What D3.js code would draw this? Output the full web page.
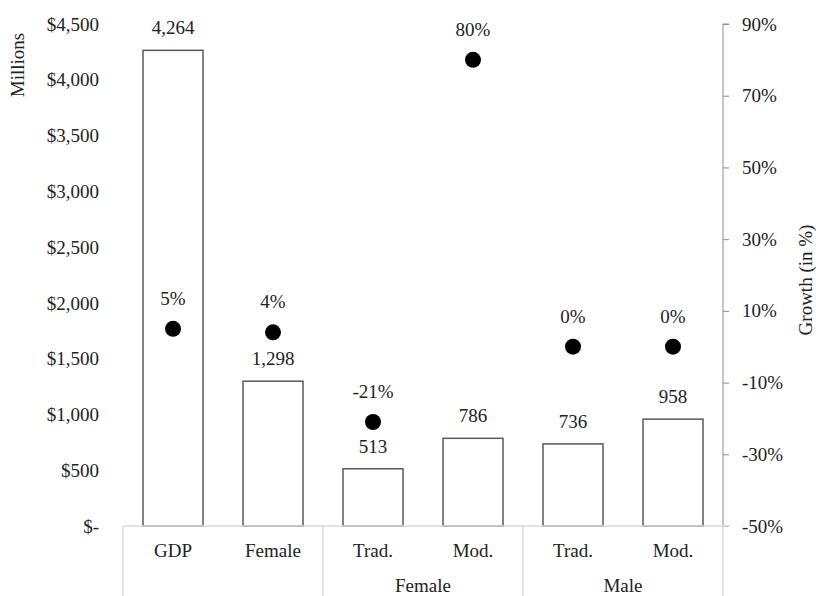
<!DOCTYPE html>
<html><head><meta charset="utf-8">
<script src="https://cdn.jsdelivr.net/npm/d3@7"></script>
<style>body{margin:0;background:#fff}svg{display:block}svg text{font-family:"Liberation Serif","DejaVu Serif",serif !important;fill:#222}</style>
</head><body><svg id="c" width="816" height="596"></svg>
<script>
const categories = ["GDP","Female","Trad.","Mod.","Trad.","Mod."];
const groups = [{label:"", from:0, to:2},{label:"Female", from:2, to:4},{label:"Male", from:4, to:6}];
const values = [4264,1298,513,786,736,958];
const valueLabels = ["4,264","1,298","513","786","736","958"];
const growth = [5,4,-21,80,0,0];
const leftTicks = [0,500,1000,1500,2000,2500,3000,3500,4000,4500];
const rightTicks = [-50,-30,-10,10,30,50,70,90];

const svg = d3.select("#c");
const L = 123, R = 723, T = 24, B = 526, FS = 19;
const x = d3.scaleBand().domain(d3.range(categories.length)).range([L,R]).paddingInner(0.4).paddingOuter(0.2);
const xb = d3.scaleBand().domain(d3.range(categories.length)).range([L,R]);
const y = d3.scaleLinear().domain([0,4500]).range([B,T]);
const y2 = d3.scaleLinear().domain([-50,90]).range([B,T]);

svg.append("g").selectAll("text").data(leftTicks).join("text")
  .attr("x",99).attr("y",d=>y(d)).attr("dy","0.35em").attr("text-anchor","end")
  .style("font-size",FS+"px").text(d=>d===0?"$-":"$"+d3.format(",")(d));
svg.append("text").attr("transform","translate(24,65) rotate(-90)").attr("text-anchor","middle")
  .style("font-size",FS+"px").text("Millions");

const ra = svg.append("g").attr("transform",`translate(${R},0)`)
  .call(d3.axisRight(y2).tickValues(rightTicks).tickSize(6).tickPadding(13).tickFormat(d=>d+"%"));
ra.attr("font-family",null);
ra.select(".domain").attr("stroke","#8c8c8c").attr("d",`M6,${T}H0V${B}`);
ra.selectAll(".tick line").attr("stroke","#8c8c8c");
ra.selectAll(".tick text").style("font-size",FS+"px").attr("fill","#222");
svg.append("text").attr("transform",`translate(812,${(T+B)/2+5}) rotate(-90)`).attr("text-anchor","middle")
  .style("font-size",FS+"px").text("Growth (in %)");

svg.append("g").selectAll("rect").data(values).join("rect")
  .attr("x",(d,i)=>x(i)).attr("width",x.bandwidth()).attr("y",d=>y(d)).attr("height",d=>B-y(d))
  .attr("fill","#fff").attr("stroke","#595959").attr("stroke-width",1.5);
svg.append("g").selectAll("text").data(values).join("text")
  .attr("x",(d,i)=>x(i)+x.bandwidth()/2).attr("y",d=>y(d)-16).attr("text-anchor","middle")
  .style("font-size",FS+"px").text((d,i)=>valueLabels[i]);

const ax = svg.append("g").attr("stroke","#d9d9d9").attr("stroke-width",1.3);
ax.append("line").attr("x1",L).attr("x2",R+6).attr("y1",B).attr("y2",B);
const seps = [0,2,4,6];
ax.selectAll("line.s").data(seps).join("line").attr("class","s")
  .attr("x1",d=>d===6?R:xb(d)).attr("x2",d=>d===6?R:xb(d)).attr("y1",B).attr("y2",596);
svg.append("g").selectAll("text").data(categories).join("text")
  .attr("x",(d,i)=>xb(i)+xb.bandwidth()/2).attr("y",550).attr("dy","0.35em").attr("text-anchor","middle")
  .style("font-size",FS+"px").text(d=>d);
svg.append("g").selectAll("text").data(groups).join("text")
  .attr("x",d=>(xb(d.from)+ (d.to===6?R:xb(d.to)))/2).attr("y",585).attr("dy","0.35em").attr("text-anchor","middle")
  .style("font-size",FS+"px").text(d=>d.label);

svg.append("g").selectAll("circle").data(growth).join("circle")
  .attr("cx",(d,i)=>x(i)+x.bandwidth()/2).attr("cy",d=>y2(d)).attr("r",8).attr("fill","#000");
svg.append("g").selectAll("text").data(growth).join("text")
  .attr("x",(d,i)=>x(i)+x.bandwidth()/2).attr("y",d=>y2(d)-24).attr("text-anchor","middle")
  .style("font-size",FS+"px").text(d=>d+"%");
</script></body></html>
